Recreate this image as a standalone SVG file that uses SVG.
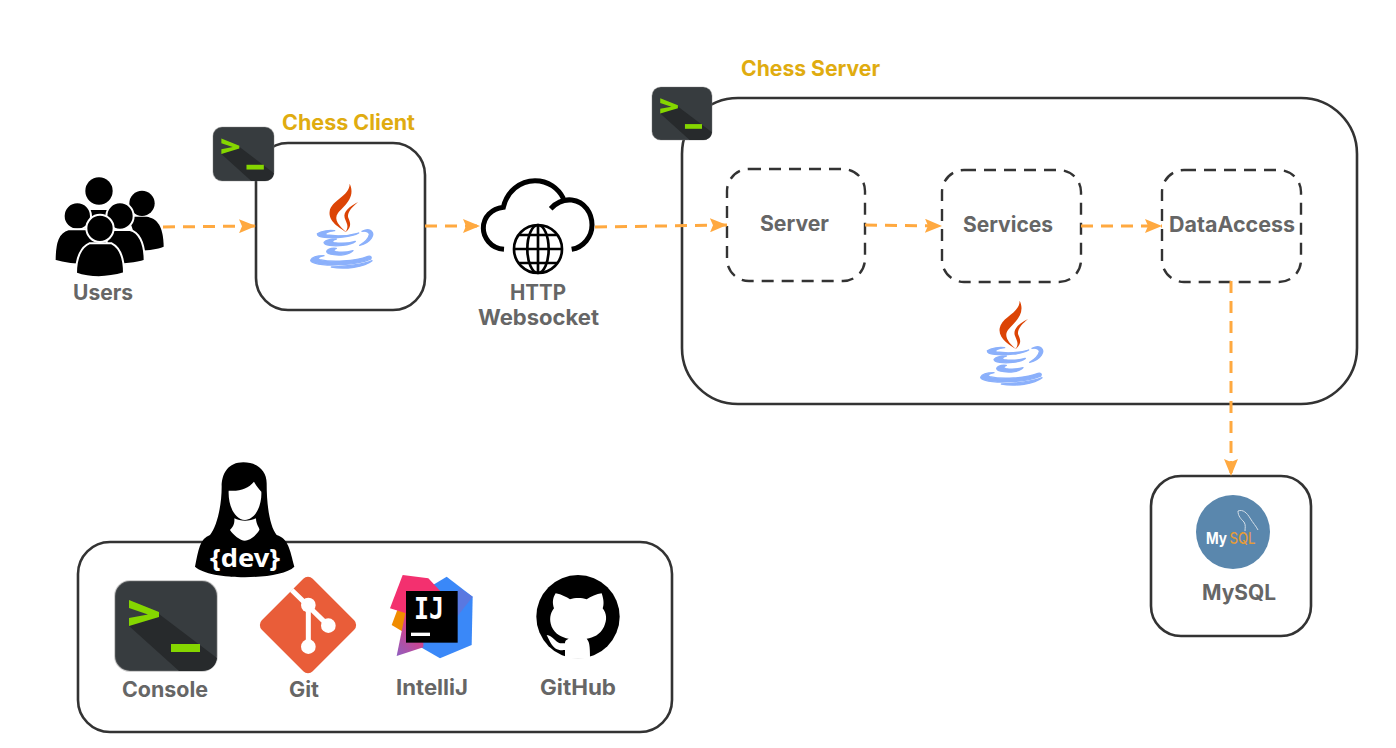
<svg xmlns="http://www.w3.org/2000/svg" width="1396" height="748" viewBox="0 0 1396 748">
<style>
.box{fill:#fff;stroke:#333;stroke-width:2.6}
.dash{fill:#fff;stroke:#333;stroke-width:2.4;stroke-dasharray:12 8}
.conn{fill:none;stroke:#ffa940;stroke-width:3;stroke-dasharray:12 8;marker-end:url(#arrow)}
.t{font-family:"Inter","Liberation Sans",sans-serif;font-weight:700;font-size:21px;fill:#666}
.title{font-family:"Inter","Liberation Sans",sans-serif;font-weight:700;font-size:21px;fill:#e0ac10}
.cup{fill:#8bb0fb;stroke:#8bb0fb;stroke-width:4;stroke-linejoin:round}
</style>
<defs>
<marker id="arrow" markerUnits="userSpaceOnUse" markerWidth="18" markerHeight="14" refX="17" refY="7" orient="auto"><path d="M0 0L17 7L0 14L3 7Z" fill="#ffa940"/></marker>
<symbol id="terminal" viewBox="0 0 102 90" overflow="visible">
<rect x="0" y="0" width="102" height="90" rx="15" fill="#373c3f" stroke="#777" stroke-opacity=".35" stroke-width="2"/>
<path d="M14 45L44 33L102 77Q100 90 86 90H64Z" fill="#272a2c"/>
<path d="M14 19L44 31V36L14 45V37L33 33.500L14 27Z" fill="#85d600"/>
<rect x="56" y="63" width="29" height="8" fill="#85d600"/>
</symbol>
<symbol id="java" viewBox="0 0 200 260" overflow="visible">
<path d="M125 2C145 45 105 70 90 90C75 110 95 130 115 148C95 135 60 115 65 85C70 50 125 40 125 2Z" fill="#dc4405"/>
<path d="M150 57C125 70 105 85 110 105C115 120 125 130 112 148C135 130 125 115 120 102C118 85 135 70 150 57Z" fill="#dc4405"/>
<path class="cup" d="M28 152C40 143 65 141 80 143C60 146 48 150 55 156C85 160 125 158 152 150C130 163 80 166 50 163C38 162 28 158 28 152Z"/>
<path class="cup" d="M48 178C55 170 75 168 85 168C72 172 70 176 78 179C100 182 125 180 142 175C125 188 85 190 65 187C55 186 48 183 48 178Z"/>
<path class="cup" d="M56 205C60 197 75 195 85 196C75 200 76 204 84 206C100 209 120 207 135 203C125 215 95 218 78 215C66 214 56 212 56 205Z"/>
<path class="cup" d="M162 145C190 132 200 150 190 165C182 177 170 183 155 187C170 178 182 168 184 155C185 147 175 143 162 145Z"/>
<path class="cup" d="M8 232C12 222 30 218 48 218C30 222 25 226 35 230C70 238 140 236 180 220C188 218 192 222 188 228C150 245 60 252 20 240C12 238 8 236 8 232Z"/>
<path class="cup" d="M192 233C170 252 110 260 70 252C110 250 160 246 192 233Z"/>
</symbol>
</defs>

<g id="users">
<g transform="translate(40 110) scale(.33333)">
<g fill="#000">
<circle cx="177" cy="243" r="41"/>
<circle cx="306" cy="280" r="38"/>
<path d="M265 320H320C350 325 370 345 371 410C350 418 330 420 300 422Z"/>
<path d="M120 300H240V400H120Z"/>
</g>
<g fill="#000" stroke="#fff" stroke-width="6">
<circle cx="240" cy="318" r="41"/>
<path d="M200 360H270C295 366 314 395 314 452C290 460 260 464 200 464Z"/>
<circle cx="112" cy="318" r="41"/>
<path d="M85 358H150C165 363 190 395 190 464C120 467 75 462 44 452C44 395 55 366 85 358Z"/>
<circle cx="180" cy="355" r="41"/>
<path d="M148 400H215C235 410 252 435 252 490C200 505 150 505 108 490C108 440 125 410 148 400Z"/>
</g>
</g>
<text class="t" x="73" y="300" textLength="60" lengthAdjust="spacingAndGlyphs">Users</text>
</g>

<g id="client">
<rect class="box" x="256" y="143" width="169" height="167" rx="32"/>
<use href="#terminal" x="213" y="127" width="61" height="54"/>
<use href="#java" x="308" y="183" width="66.700" height="86.700"/>
<text class="title" x="282" y="129.500" textLength="133" lengthAdjust="spacingAndGlyphs">Chess Client</text>
</g>

<g id="http">
<g transform="translate(470 60) scale(.33333)">
<path d="M102 568C60 565 40 530 40 505C40 470 65 447 100 442C110 395 150 362 195 362C235 362 265 385 280 415M242 446C262 425 285 418 305 420C345 425 366 460 366 495C366 530 340 562 305 568" fill="none" stroke="#000" stroke-width="15"/>
<g fill="none" stroke="#000" stroke-width="8">
<circle cx="204" cy="567" r="72"/>
<ellipse cx="204" cy="567" rx="32" ry="72"/>
<path d="M204 495V639M132 567H276M147 525H261M147 609H261"/>
</g>
</g>
<text class="t" x="510" y="300" textLength="56" lengthAdjust="spacingAndGlyphs">HTTP</text>
<text class="t" x="478" y="325" textLength="121" lengthAdjust="spacingAndGlyphs">Websocket</text>
</g>

<g id="chess-server">
<rect class="box" x="682" y="98" width="675" height="306" rx="56"/>
<use href="#terminal" x="652" y="86" width="60" height="55"/>
<use href="#java" x="978" y="300" width="66.700" height="86.700"/>
<text class="title" x="741" y="76" textLength="139" lengthAdjust="spacingAndGlyphs">Chess Server</text>
</g>

<g id="server">
<rect class="dash" x="727" y="169" width="138" height="112" rx="22"/>
<text class="t" x="760" y="231" textLength="69" lengthAdjust="spacingAndGlyphs">Server</text>
</g>
<g id="services">
<rect class="dash" x="942" y="170" width="139" height="112" rx="22"/>
<text class="t" x="963" y="232" textLength="90" lengthAdjust="spacingAndGlyphs">Services</text>
</g>
<g id="dataaccess">
<rect class="dash" x="1162" y="170" width="139" height="112" rx="22"/>
<text class="t" x="1169" y="232" textLength="126" lengthAdjust="spacingAndGlyphs">DataAccess</text>
</g>

<g id="mysql">
<rect class="box" x="1151" y="476" width="160" height="160" rx="30"/>
<circle cx="1233" cy="532" r="37" fill="#5a87ad"/>
<path d="M1238 511C1243 509 1247 513 1250 518C1253 523 1256 526 1258 530M1238 511C1238 516 1241 519 1244 522C1246 525 1245 528 1245 531" fill="none" stroke="#d3dee8" stroke-width="1"/>
<text x="1206" y="544" font-family="Inter,'Liberation Sans',sans-serif" font-weight="700" font-size="16" fill="#fff" textLength="21" lengthAdjust="spacingAndGlyphs">My</text>
<text x="1229.500" y="544" font-family="Inter,'Liberation Sans',sans-serif" font-weight="500" font-size="16" fill="#e39b3b" textLength="26" lengthAdjust="spacingAndGlyphs">SQL</text>
<text class="t" x="1202" y="599.500" textLength="74" lengthAdjust="spacingAndGlyphs">MySQL</text>
</g>

<g id="dev-box">
<rect class="box" x="78" y="542" width="594" height="190" rx="32"/>
</g>

<g id="developer">
<g transform="translate(100 450) scale(.33333)">
<path d="M430 37C385 37 365 70 365 110C365 170 350 230 330 255C300 265 295 300 285 350C330 392 540 392 583 350C570 300 565 265 530 255C510 230 500 170 500 100C500 60 470 37 430 37Z" fill="#000"/>
<path d="M386 122C420 125 445 115 462 95C470 110 480 120 484 125C486 160 470 208 435 210C400 208 384 160 386 122Z" fill="#fff"/>
<path d="M403 205C420 215 450 215 468 205C468 225 480 235 478 240C465 262 445 272 435 272C420 272 400 255 390 240C395 235 405 225 403 205Z" fill="#fff"/>
</g>
<text x="210" y="567" font-family="'Noto Sans',sans-serif" font-weight="700" font-size="25" fill="#fff" textLength="70" lengthAdjust="spacingAndGlyphs">{dev}</text>
</g>

<g id="console">
<use href="#terminal" x="115" y="581" width="102" height="90"/>
<text class="t" x="122" y="696.500" textLength="86" lengthAdjust="spacingAndGlyphs">Console</text>
</g>

<g id="git">
<g transform="translate(100 450) scale(.33333)">
<rect x="516" y="417" width="216" height="216" rx="20" fill="#e95d39" transform="rotate(45 624 525)"/>
<path d="M575 420L685 527M625 465V590" stroke="#fff" stroke-width="15" fill="none"/>
<circle cx="625" cy="465" r="22" fill="#fff"/>
<circle cx="685" cy="527" r="22" fill="#fff"/>
<circle cx="625" cy="590" r="22" fill="#fff"/>
</g>
<text class="t" x="289" y="696.500" textLength="30" lengthAdjust="spacingAndGlyphs">Git</text>
</g>

<g id="intellij">
<defs>
<linearGradient id="ijp" x1="0" y1="1" x2="0.6" y2="0"><stop offset="0" stop-color="#8f5fc0"/><stop offset="1" stop-color="#f5326f"/></linearGradient>
</defs>
<g transform="translate(380 560) scale(.33333)">
<path d="M52 150L35 195L80 222L90 160Z" fill="#f08c00"/>
<path d="M200 50L278 110L275 255L180 295L120 260L150 80Z" fill="#3a88f8"/>
<path d="M278 110L233 168V93L240 85Z" fill="#5a78e0"/>
<path d="M50 288L78 150L130 250L130 262Z" fill="url(#ijp)"/>
<path d="M68 45L145 55L180 92L160 130L78 160L30 145Z" fill="#f3306f"/>
<rect x="78" y="93" width="155" height="155" fill="#000"/>
<rect x="93" y="218" width="57" height="10" fill="#fff"/>
</g>
<text x="414" y="619" font-family="'DejaVu Sans Mono',monospace" font-weight="700" font-size="30" fill="#fff" textLength="30" lengthAdjust="spacingAndGlyphs">IJ</text>
<text class="t" x="396" y="695" textLength="72" lengthAdjust="spacingAndGlyphs">IntelliJ</text>
</g>

<g id="github">
<g transform="translate(380 560) scale(.33333)">
<circle cx="594" cy="170" r="125" fill="#000"/>
<path d="M527 100C545 103 560 112 570 118C585 113 605 113 620 118C632 110 650 102 665 100C672 120 672 135 668 145C680 160 682 180 672 200C660 225 640 232 620 236C628 245 630 255 630 296L555 296L555 270C535 272 522 268 510 245L500 225C520 228 525 245 540 250L555 250C555 240 560 240 566 236C545 232 525 222 515 200C507 180 510 160 522 145C517 130 517 115 527 100Z" fill="#fff"/>
</g>
<text class="t" x="540" y="695" textLength="76" lengthAdjust="spacingAndGlyphs">GitHub</text>
</g>

<g id="connectors">
<path class="conn" d="M163 227L256 226"/>
<path class="conn" d="M425 226L480 226"/>
<path class="conn" d="M595 227L727 225"/>
<path class="conn" d="M865 225L942 226"/>
<path class="conn" d="M1081 226L1162 226"/>
<path class="conn" d="M1231 281L1231 476"/>
</g>
</svg>
